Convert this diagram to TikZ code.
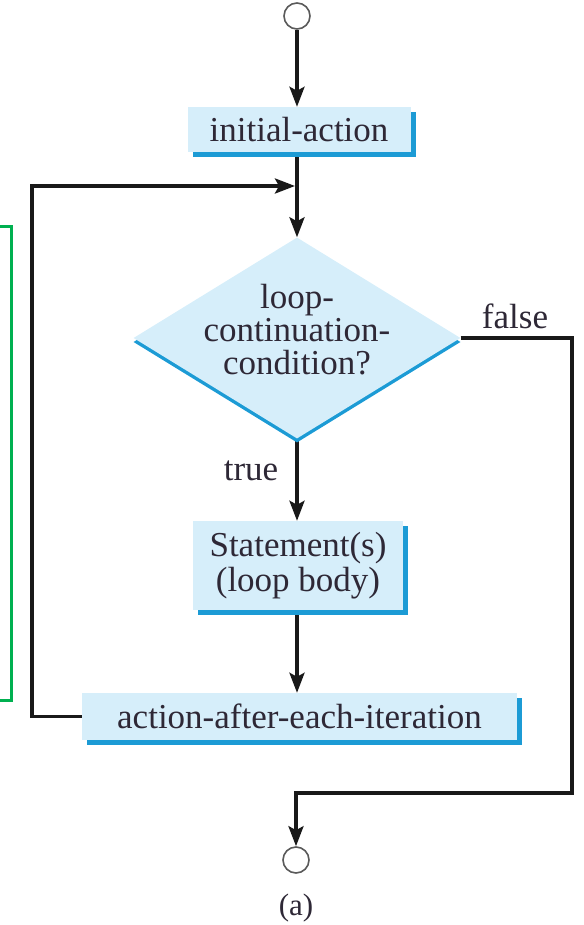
\documentclass[tikz,border=0pt]{standalone}
\usepackage{fontspec}
\setmainfont{Liberation Serif}
\usetikzlibrary{arrows.meta,shapes.geometric,shadows,backgrounds}
\definecolor{boxfill}{HTML}{D6EEFA}
\definecolor{boxedge}{HTML}{1C9BD5}
\definecolor{inkgray}{HTML}{2E2836}
\definecolor{ringgray}{HTML}{5A5A5A}
\definecolor{framegreen}{HTML}{00B050}
\begin{document}
\begin{tikzpicture}[x=1pt,y=-1pt,
  font=\fontsize{35}{35}\selectfont, text=inkgray,
  flowbox/.style={rectangle, fill=boxfill, inner sep=0pt, align=center,
    drop shadow={shadow xshift=5pt, shadow yshift=-5pt, fill=boxedge, opacity=1}},
  decision/.style={diamond, fill=boxfill, inner sep=0pt,
    minimum width=327pt, minimum height=201pt,
    drop shadow={shadow xshift=0pt, shadow yshift=-4pt, fill=boxedge, opacity=1}},
  terminal/.style={circle, draw=ringgray, line width=1.6pt, fill=white,
    minimum size=26pt, inner sep=0pt},
  flowline/.style={line width=3.5pt, draw=black!90},
  flowarrow/.style={flowline, -{Stealth[length=20pt,width=15pt,inset=4pt]}}]
\useasboundingbox (0,0) rectangle (583,925);

% nodes of the flowchart
\node[terminal] (start) at (297,16) {};
\node[flowbox, minimum width=223pt, minimum height=45pt] (init) at (299,129.5) {initial-action};
\node[decision] (dec) at (297,338) {};
\node[align=center, font=\fontsize{35}{33}\selectfont] (cond) at (297,330) {loop-\\continuation-\\condition?};
\node[flowbox, minimum width=210pt, minimum height=89pt] (body) at (298,565.5) {Statement(s)\\(loop body)};
\node[flowbox, minimum width=435pt, minimum height=47pt] (after) at (299.5,716.5) {action-after-each-iteration};
\node[terminal] (stop) at (296,860) {};
\node[font=\fontsize{31}{31}\selectfont] (cap) at (296,908) {(a)};
\node (truelbl) at (251,471) {true};
\node (falselbl) at (515,316) {false};

% bend points of the routed connectors
\coordinate (backtop) at (32,186);
\coordinate (merge) at (295,186);
\coordinate (rightdown) at (572,793);

% side frame
\draw[framegreen, line width=3pt] (-20,227) rectangle (11,700);

\begin{pgfonlayer}{background}
\draw[flowarrow] (start.south) -- (start.south |- init.north);
\draw[flowarrow] (init.south -| dec.north) -- (dec.north);
\draw[flowarrow] (after.west) -| (backtop) -- (merge);
\draw[flowarrow] (dec.south) -- (dec.south |- body.north);
\draw[flowarrow] (body.south -| dec.south) -- (dec.south |- after.north);
\draw[flowarrow] (dec.east) -| (rightdown) -| (stop.north);
\end{pgfonlayer}
\end{tikzpicture}
\end{document}
